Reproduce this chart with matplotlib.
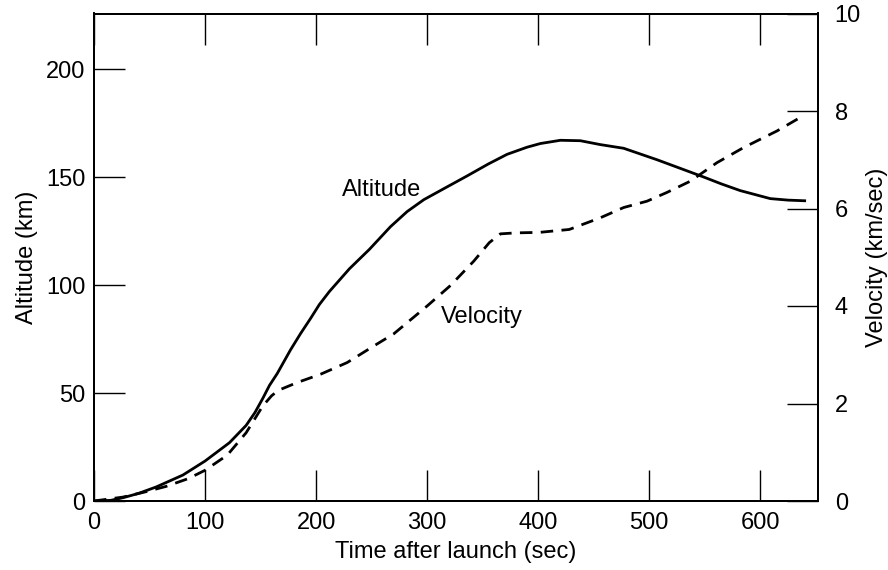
import matplotlib
matplotlib.use("Agg")
import matplotlib.pyplot as plt

plt.rcParams['font.family'] = ['Liberation Sans', 'DejaVu Sans']

# Altitude curve (time in sec, altitude in km)
alt_t = [0, 15, 26, 40, 56, 80, 100, 122, 137, 145, 152, 158, 165, 177, 186,
         195, 203, 212, 230, 248, 267, 282, 297, 320, 336, 355, 372, 390,
         402, 420, 438, 456, 477, 507, 528, 549, 565, 582, 609, 625, 640]
alt_km = [0, 0.3, 1.5, 3.5, 6.5, 12, 18.5, 27, 35, 41, 47.5, 53.5, 59, 70, 77.5,
          84.5, 91, 97, 107.5, 116.5, 127, 134, 139.5, 146, 150.5, 156, 160.5,
          163.8, 165.5, 167, 166.8, 165, 163.3, 158, 154, 150, 146.8, 143.7,
          140, 139.3, 139]

# Velocity curve (time in sec, velocity in km/sec)
vel_t = [0, 26, 45, 65, 85, 100, 120, 137, 152, 160, 166, 183, 204, 228, 252,
         270, 300, 321, 342, 356, 366, 380, 401, 428, 456, 477, 498, 516, 537,
         561, 585, 615, 640]
vel_kms = [0, 0.08, 0.18, 0.3, 0.46, 0.63, 0.94, 1.4, 1.95, 2.16, 2.27, 2.43,
           2.6, 2.84, 3.18, 3.43, 4.0, 4.42, 4.92, 5.3, 5.48, 5.5, 5.51, 5.57,
           5.81, 6.02, 6.15, 6.33, 6.56, 6.94, 7.25, 7.59, 7.92]

x_ticks = [0, 100, 200, 300, 400, 500, 600]
alt_ticks = [0, 50, 100, 150, 200]
vel_ticks = [0, 2, 4, 6, 8, 10]

fig = plt.figure(figsize=(8.88, 5.70), dpi=100)
ax = fig.add_axes([94 / 888, 1 - 501 / 570, 724 / 888, 487.5 / 570])
ax2 = ax.twinx()

ax.plot(alt_t, alt_km, color='black', lw=2.0, solid_joinstyle='round')
ax2.plot(vel_t, vel_kms, color='black', lw=2.0, linestyle=(0, (4.5, 3)))

ax.set_xlim(0, 652)
ax.set_ylim(0, 225.7)
ax2.set_ylim(0, 10)

fs = 17
ax.set_xticks(x_ticks)
ax.set_yticks(alt_ticks)
ax2.set_yticks(vel_ticks)
ax.tick_params(axis='x', direction='in', length=22, width=1, top=True,
               labelsize=fs, pad=8)
ax.tick_params(axis='y', direction='in', length=22, width=1, labelsize=fs, pad=6)
ax2.tick_params(axis='y', direction='in', length=22, width=1, labelsize=fs, pad=12)

for a in (ax, ax2):
    for s in a.spines.values():
        s.set_linewidth(1.4)

ax.set_xlabel('Time after launch (sec)', fontsize=fs, labelpad=5)
ax.set_ylabel('Altitude (km)', fontsize=fs, labelpad=6)
ax2.set_ylabel('Velocity (km/sec)', fontsize=fs, labelpad=4)

ax.text(223, 144, 'Altitude', fontsize=fs, va='center', ha='left')
ax.text(312, 85, 'Velocity', fontsize=fs, va='center', ha='left')

fig.savefig('out.png', dpi=100)
